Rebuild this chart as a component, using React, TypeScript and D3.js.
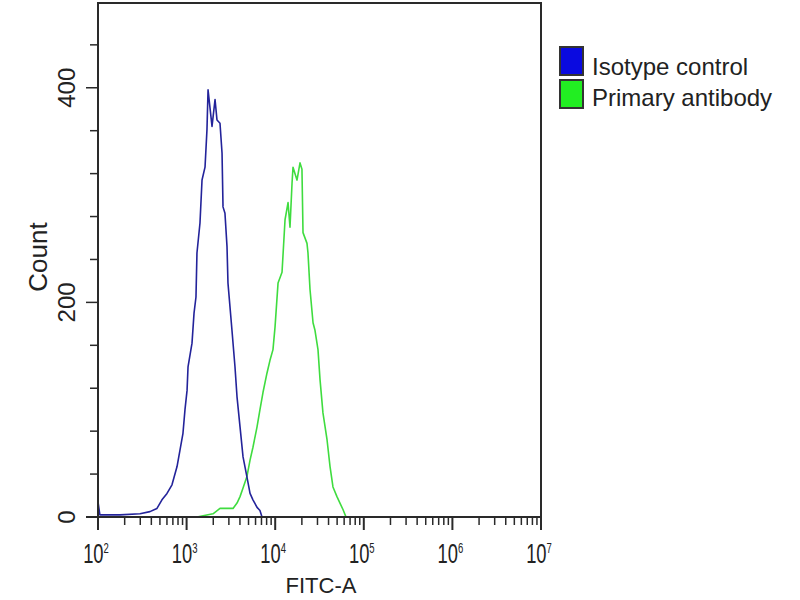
import React from "react";
import * as d3 from "d3";

// Isotype control histogram (FITC-A intensity, count)
const isoX = [100, 105, 177, 298, 386, 463, 527, 601, 684, 780, 841, 910, 959, 1012, 1038, 1151, 1213, 1276, 1309, 1416, 1493, 1614, 1698, 1746, 1936, 2094, 2203, 2382, 2512, 2576, 2710, 2858, 2931, 3251, 3516, 3707, 4009, 4335, 4808, 5200, 5610, 6237, 6730, 7096];
const isoCount = [14, 2, 2, 3, 5, 8, 16, 22, 30, 47, 62, 78, 100, 118, 140, 162, 190, 205, 246, 274, 314, 326, 361, 398, 364, 389, 370, 367, 339, 289, 283, 252, 218, 174, 140, 112, 84, 56, 37, 22, 16, 9, 6, 0];

// Primary antibody histogram
const priX = [1309, 1986, 2382, 3342, 3707, 4009, 4335, 4808, 5200, 5610, 6237, 6730, 7278, 8072, 8730, 9441, 9954, 10765, 11940, 12912, 13963, 14688, 15488, 15885, 17620, 19055, 20045, 20600, 22850, 23442, 24715, 26730, 28119, 30409, 32063, 34594, 38459, 41591, 44875, 49774, 53827, 58210, 62951];
const priCount = [0, 3, 8, 8, 13, 19, 27, 38, 53, 65, 84, 100, 116, 134, 146, 156, 177, 218, 228, 277, 293, 270, 311, 326, 314, 330, 324, 265, 255, 246, 212, 181, 174, 156, 128, 97, 72, 47, 28, 19, 13, 7, 0];

const xTickExponents = [2, 3, 4, 5, 6, 7];
const yTickLabels = [0, 200, 400];
const yTicks = [0, 40, 80, 120, 160, 200, 240, 280, 320, 360, 400, 440];
const minorMultipliers = [2, 3, 4, 5, 6, 7, 8, 9];
const legendLabels = ["Isotype control", "Primary antibody"];
const seriesColors = ["#23239a", "#3fdc3f"];
const legendColors = ["#0a0ae0", "#22ee22"];
const xLabel = "FITC-A";
const yLabel = "Count";

export default function App() {
  const left = 98, right = 541, top = 3, bottom = 517;
  const x = d3.scaleLog().domain([100, 1e7]).range([left, right]);
  const y = d3.scaleLinear().domain([0, 479]).range([bottom, top]);
  const line = d3
    .line<[number, number]>()
    .x((d) => x(d[0]))
    .y((d) => y(d[1]));
  const isoPath = line(isoX.map((v, i) => [v, isoCount[i]] as [number, number])) || "";
  const priPath = line(priX.map((v, i) => [v, priCount[i]] as [number, number])) || "";

  const minorX: number[] = [];
  for (let e = 2; e < 7; e++) {
    minorMultipliers.forEach((m) => minorX.push(m * Math.pow(10, e)));
  }

  const font = "'Liberation Sans', Arial, sans-serif";
  const axisColor = "#2a2a2a";

  return (
    <svg
      width={800}
      height={600}
      style={{ position: "absolute", left: 0, top: 0, background: "#fff" }}
      fontFamily={font}
    >
      <rect x={0} y={0} width={800} height={600} fill="#fff" />
      {/* series */}
      <path d={priPath} fill="none" stroke={seriesColors[1]} strokeWidth={1.6} strokeLinejoin="round" />
      <path d={isoPath} fill="none" stroke={seriesColors[0]} strokeWidth={1.6} strokeLinejoin="round" />

      {/* frame */}
      <path
        d={`M${left},${bottom} L${left},${top} L${right},${top} L${right},${bottom}`}
        fill="none"
        stroke={axisColor}
        strokeWidth={2}
      />
      <line x1={left - 12} x2={right} y1={bottom} y2={bottom} stroke={axisColor} strokeWidth={2} />

      {/* y ticks */}
      {yTicks.map((t) => (
        <line
          key={"yt" + t}
          x1={left - (yTickLabels.includes(t) ? 12 : 8)}
          x2={left}
          y1={y(t)}
          y2={y(t)}
          stroke={axisColor}
          strokeWidth={1.5}
        />
      ))}
      {yTickLabels.map((t) => (
        <text
          key={"yl" + t}
          transform={`translate(75,${y(t)}) rotate(-90)`}
          textAnchor="middle"
          fontSize={24}
          fill="#222"
        >
          {t}
        </text>
      ))}

      {/* x ticks */}
      {minorX.map((v) => (
        <line key={"xm" + v} x1={x(v)} x2={x(v)} y1={bottom} y2={bottom + 8} stroke={axisColor} strokeWidth={1.5} />
      ))}
      {xTickExponents.map((e) => (
        <line
          key={"xt" + e}
          x1={x(Math.pow(10, e))}
          x2={x(Math.pow(10, e))}
          y1={bottom}
          y2={bottom + 13}
          stroke={axisColor}
          strokeWidth={2}
        />
      ))}
      {xTickExponents.map((e) => (
        <text
          key={"xl" + e}
          transform={`translate(${x(Math.pow(10, e)) - 2},563) scale(0.68,1)`}
          textAnchor="middle"
          fontSize={27}
          fill="#222"
        >
          10
          <tspan fontSize={14} dy={-10}>
            {e}
          </tspan>
        </text>
      ))}

      {/* axis titles */}
      <text x={321} y={593} textAnchor="middle" fontSize={22} fill="#222">
        {xLabel}
      </text>
      <text transform={`translate(47,257) rotate(-90)`} textAnchor="middle" fontSize={26} fill="#222">
        {yLabel}
      </text>

      {/* legend */}
      {legendLabels.map((lab, i) => (
        <g key={lab}>
          <rect x={560} y={47 + i * 33} width={23} height={28} fill={legendColors[i]} stroke="#333" strokeWidth={2} />
          <text x={592} y={75 + i * 31} fontSize={24} fill="#222">
            {lab}
          </text>
        </g>
      ))}
    </svg>
  );
}
